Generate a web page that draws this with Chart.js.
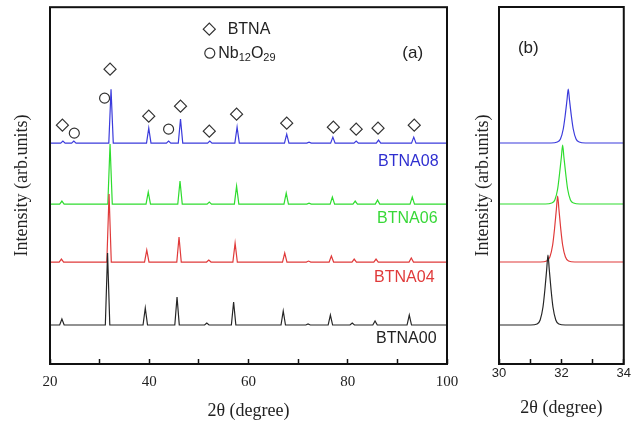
<!DOCTYPE html>
<html>
<head>
<meta charset="utf-8">
<script src="https://cdn.jsdelivr.net/npm/chart.js@4.4.0/dist/chart.umd.min.js"></script>
<style>
  html, body { margin: 0; padding: 0; background: #fff; }
  #wrap { position: relative; width: 638px; height: 424px; }
  canvas { position: absolute; left: 0; top: 0; }
</style>
</head>
<body>
<div id="wrap">
  <canvas id="chartA" width="638" height="424"></canvas>
  <canvas id="chartB" width="638" height="424"></canvas>
</div>
<script>
// ---- data (intensity in arbitrary, offset units) ----
const sampleNames = ["BTNA00", "BTNA04", "BTNA06", "BTNA08"];
const baseline = [39, 102, 160, 221];

// panel (a): peak positions (2θ) and heights above baseline
const peaks00 = [22.4, 31.6, 39.2, 45.6, 51.6, 57.0, 67.0, 72.0, 76.5, 80.9, 85.5, 92.4];
const heights00 = [6, 72, 17, 28, 2, 23, 14, 1, 10, 2, 4, 10];
const peaks04 = [22.3, 31.9, 39.5, 46.0, 52.0, 57.3, 67.3, 72.1, 76.7, 81.3, 85.7, 92.8];
const heights04 = [3, 68, 12, 25, 2, 19, 9, 1, 6, 3, 3, 4];
const peaks06 = [22.4, 32.1, 39.8, 46.2, 52.1, 57.6, 67.6, 72.2, 76.9, 81.5, 86.0, 93.0];
const heights06 = [3, 60, 12, 23, 2, 18, 11, 1, 7, 3, 4, 7];
const peaks08 = [22.6, 24.8, 32.3, 39.9, 43.9, 46.3, 52.2, 57.7, 67.7, 72.2, 77.0, 81.7, 86.2, 93.3];
const heights08 = [2, 2, 54, 15, 2, 24, 2, 16, 9, 1, 6, 2, 3, 6];

// phase markers
const btnaMarkX = [22.5, 32.1, 39.9, 46.3, 52.1, 57.6, 67.7, 77.1, 81.7, 86.1, 93.4];
const btnaMarkY = [239, 295, 248, 258, 233, 250, 241, 237, 235, 236, 239];
const nbMarkX = [24.9, 31.0, 43.9];
const nbMarkY = [231, 266, 235];
const legendMarkX = [52.1, 52.2];
const legendMarkY = [335, 311];

// panel (b): (110) peak region
const xB00 = [30, 31.02, 31.22, 31.32, 31.41, 31.47, 31.53, 31.57, 31.61, 31.67, 31.73, 31.82, 31.92, 32.12, 34];
const yB00 = [39, 39, 40, 44, 57, 74, 95, 109, 95, 74, 57, 44, 40, 39, 39];
const xB04 = [30, 31.33, 31.53, 31.63, 31.72, 31.78, 31.84, 31.88, 31.92, 31.98, 32.04, 32.13, 32.23, 32.43, 34];
const yB04 = [102, 102, 103, 107, 119, 135, 155, 168, 155, 135, 119, 107, 103, 102, 102];
const xB06 = [30, 31.49, 31.69, 31.79, 31.88, 31.94, 32.0, 32.04, 32.08, 32.14, 32.2, 32.29, 32.39, 32.59, 34];
const yB06 = [160, 160, 161, 164, 175, 190, 207, 219, 207, 190, 175, 164, 161, 160, 160];
const xB08 = [30, 31.67, 31.87, 31.97, 32.06, 32.12, 32.18, 32.22, 32.26, 32.32, 32.38, 32.47, 32.57, 32.77, 34];
const yB08 = [221, 221, 222, 225, 235, 248, 264, 275, 264, 248, 235, 225, 222, 221, 221];

// ---- style ----
const lineColors = ["#262626", "#e03a3a", "#2fdc2f", "#3b3bdc"];
const labelColors = ["#222222", "#e03a3a", "#38d838", "#2f2fd0"];
const serif = "'Liberation Serif', 'Times New Roman', serif";
const sans = "'Liberation Sans', Arial, sans-serif";
const peakHalfWidth = 0.45;

const makeTrace = (base, pos, height) => {
  let pts = [{ x: 20, y: base }];
  pos.forEach((p, i) => {
    pts.push({ x: p - peakHalfWidth, y: base });
    pts.push({ x: p, y: base + height[i] });
    pts.push({ x: p + peakHalfWidth, y: base });
  });
  pts.push({ x: 100, y: base });
  return pts;
};
const zip = (xs, ys) => xs.map((x, i) => ({ x: x, y: ys[i] }));

// frame round the plot area
const framePlugin = {
  id: "frame",
  afterDatasetsDraw(chart) {
    const a = chart.chartArea;
    const ctx = chart.ctx;
    ctx.save();
    ctx.strokeStyle = "#111";
    ctx.lineWidth = 2;
    ctx.strokeRect(a.left, a.top, a.right - a.left, a.bottom - a.top);
    ctx.restore();
  },
};

// free text placed in data coordinates
const textPlugin = {
  id: "textLabels",
  afterDraw(chart, args, opts) {
    const ctx = chart.ctx;
    const sx = chart.scales.x;
    const sy = chart.scales.y;
    ctx.save();
    ctx.textBaseline = "middle";
    (opts.items || []).forEach((it) => {
      let px = sx.getPixelForValue(it.x);
      let py = sy.getPixelForValue(it.y);
      ctx.fillStyle = it.color || "#222";
      if (it.parts) {
        ctx.textAlign = "left";
        it.parts.forEach((p) => {
          ctx.font = (p.sub ? it.subSize : it.size) + "px " + sans;
          ctx.fillText(p.t, px, py + (p.sub ? 5 : 0));
          px += ctx.measureText(p.t).width;
        });
      } else {
        ctx.textAlign = it.align || "center";
        ctx.font = it.size + "px " + sans;
        ctx.fillText(it.text, px, py);
      }
    });
    ctx.restore();
  },
};

const traceStyle = (i) => ({
  showLine: true,
  borderColor: lineColors[i],
  borderWidth: 1.2,
  pointRadius: 0,
  fill: false,
});

const markerStyle = (style, r) => ({
  showLine: false,
  pointStyle: style,
  pointRadius: r,
  pointBorderColor: "#333",
  pointBackgroundColor: "rgba(0,0,0,0)",
  pointBorderWidth: 1.2,
});

const yAxis = (width, titlePad) => ({
  min: 0,
  max: 357,
  ticks: { display: false },
  grid: { display: false },
  border: { display: false },
  title: {
    display: true,
    text: "Intensity (arb.units)",
    color: "#222",
    font: { family: serif, size: 18 },
    padding: { top: titlePad, bottom: 0 },
  },
  afterFit: (s) => { s.width = width; },
});

// ---- panel (a) ----
new Chart(document.getElementById("chartA"), {
  type: "scatter",
  data: {
    datasets: [
      { label: sampleNames[0], data: makeTrace(baseline[0], peaks00, heights00), ...traceStyle(0) },
      { label: sampleNames[1], data: makeTrace(baseline[1], peaks04, heights04), ...traceStyle(1) },
      { label: sampleNames[2], data: makeTrace(baseline[2], peaks06, heights06), ...traceStyle(2) },
      { label: sampleNames[3], data: makeTrace(baseline[3], peaks08, heights08), ...traceStyle(3) },
      { label: "BTNA", data: zip(btnaMarkX, btnaMarkY), ...markerStyle("rectRot", 6) },
      { label: "Nb12O29", data: zip(nbMarkX, nbMarkY), ...markerStyle("circle", 5) },
      { label: "legend BTNA", data: zip(legendMarkX.slice(0, 1), legendMarkY.slice(0, 1)), ...markerStyle("rectRot", 6) },
      { label: "legend Nb", data: zip(legendMarkX.slice(1), legendMarkY.slice(1)), ...markerStyle("circle", 5) },
    ],
  },
  options: {
    responsive: false,
    animation: false,
    events: [],
    layout: { padding: { left: 0, right: 191, top: 7, bottom: 0 } },
    scales: {
      x: {
        type: "linear",
        min: 20,
        max: 100,
        ticks: {
          stepSize: 10,
          autoSkip: false,
          maxRotation: 0,
          padding: 14,
          color: "#222",
          font: { family: serif, size: 15 },
          callback: (v) => (v % 20 === 0 ? v : ""),
        },
        grid: { display: true, drawOnChartArea: false, tickLength: -5, tickColor: "#111", tickWidth: 1.5 },
        border: { display: false },
        title: {
          display: true,
          text: "2θ (degree)",
          color: "#222",
          font: { family: serif, size: 18 },
          padding: { top: 0, bottom: 2 },
        },
        afterFit: (s) => { s.height = 60; },
      },
      y: yAxis(50, 11),
    },
    plugins: {
      legend: { display: false },
      tooltip: { enabled: false },
      textLabels: {
        items: [
          { text: "BTNA08", x: 92.2, y: 203, size: 16, color: labelColors[3] },
          { text: "BTNA06", x: 92.0, y: 145, size: 16, color: labelColors[2] },
          { text: "BTNA04", x: 91.4, y: 86, size: 16, color: labelColors[1] },
          { text: "BTNA00", x: 91.8, y: 25, size: 16, color: labelColors[0] },
          { text: "(a)", x: 93.1, y: 311, size: 17, color: "#222" },
          { text: "BTNA", x: 55.8, y: 335, size: 16, color: "#222", align: "left" },
          {
            x: 53.9, y: 311, size: 16, subSize: 11, color: "#222",
            parts: [{ t: "Nb" }, { t: "12", sub: true }, { t: "O" }, { t: "29", sub: true }],
          },
        ],
      },
    },
  },
  plugins: [framePlugin, textPlugin],
});

// ---- panel (b) ----
new Chart(document.getElementById("chartB"), {
  type: "scatter",
  data: {
    datasets: [
      { label: sampleNames[0], data: zip(xB00, yB00), ...traceStyle(0), cubicInterpolationMode: "monotone" },
      { label: sampleNames[1], data: zip(xB04, yB04), ...traceStyle(1), cubicInterpolationMode: "monotone" },
      { label: sampleNames[2], data: zip(xB06, yB06), ...traceStyle(2), cubicInterpolationMode: "monotone" },
      { label: sampleNames[3], data: zip(xB08, yB08), ...traceStyle(3), cubicInterpolationMode: "monotone" },
    ],
  },
  options: {
    responsive: false,
    animation: false,
    events: [],
    layout: { padding: { left: 460, right: 13, top: 7, bottom: 0 } },
    scales: {
      x: {
        type: "linear",
        min: 30,
        max: 34,
        ticks: {
          stepSize: 1,
          autoSkip: false,
          maxRotation: 0,
          padding: 7,
          color: "#222",
          font: { family: sans, size: 13 },
          callback: (v) => (v % 2 === 0 ? v : ""),
        },
        grid: { display: true, drawOnChartArea: false, tickLength: -5, tickColor: "#111", tickWidth: 1.5 },
        border: { display: false },
        title: {
          display: true,
          text: "2θ (degree)",
          color: "#222",
          font: { family: serif, size: 18 },
          padding: { top: 0, bottom: 5 },
        },
        afterFit: (s) => { s.height = 60; },
      },
      y: yAxis(39, 12),
    },
    plugins: {
      legend: { display: false },
      tooltip: { enabled: false },
      textLabels: {
        items: [{ text: "(b)", x: 30.94, y: 316, size: 17, color: "#222" }],
      },
    },
  },
  plugins: [framePlugin, textPlugin],
});
</script>
</body>
</html>
